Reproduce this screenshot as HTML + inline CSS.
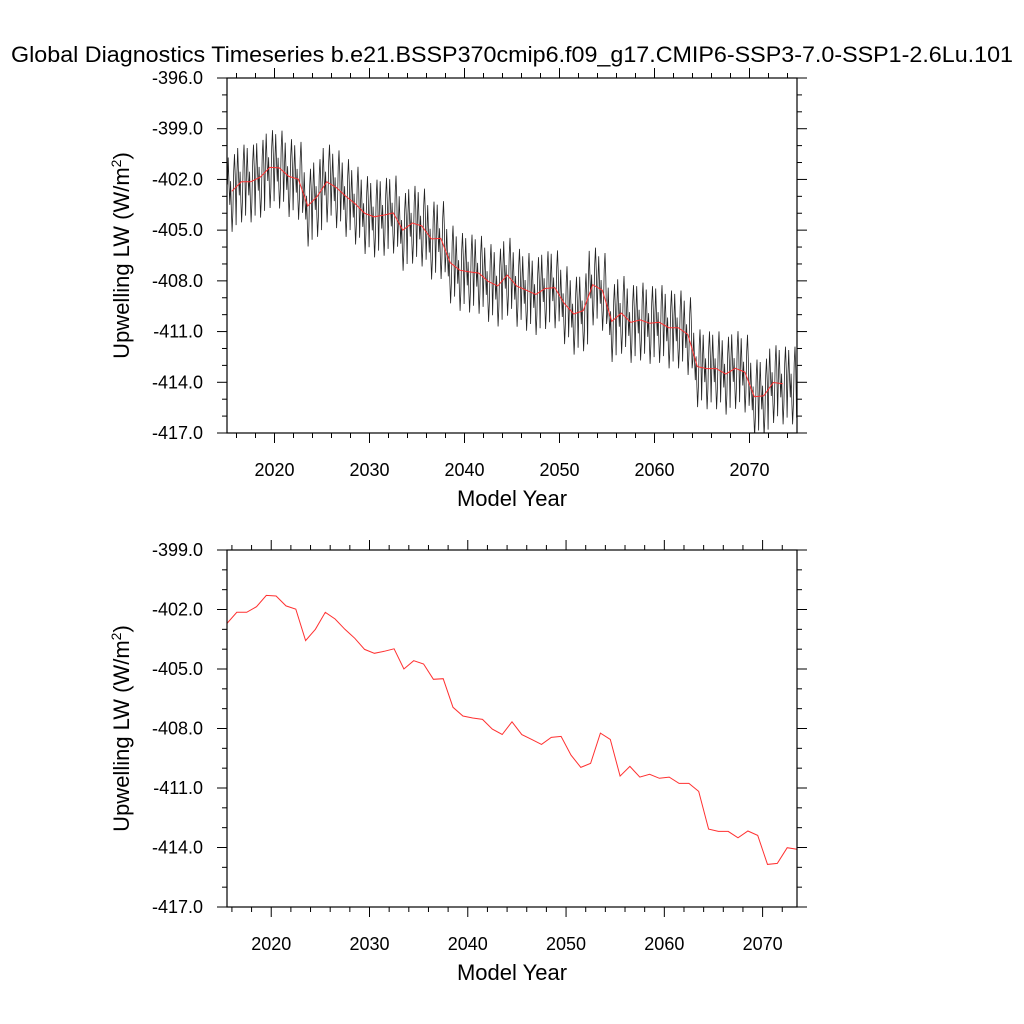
<!DOCTYPE html>
<html><head><meta charset="utf-8"><style>
body{margin:0;background:#fff;}
svg{display:block;font-family:"Liberation Sans",Arial,sans-serif;}
</style></head><body>
<svg id="svg" width="1024" height="1024" xmlns="http://www.w3.org/2000/svg">
<text x="512" y="62" font-size="22.5" text-anchor="middle" textLength="1002" lengthAdjust="spacingAndGlyphs">Global Diagnostics Timeseries b.e21.BSSP370cmip6.f09_g17.CMIP6-SSP3-7.0-SSP1-2.6Lu.101</text>
<g id="top"></g>
<g id="bot"></g>
</svg>
<script>
const years = [];
for (let y = 2015; y <= 2073; y++) years.push(y);
const annualMean = [-402.70,-402.14,-402.14,-401.86,-401.29,-401.32,-401.82,-401.98,-403.57,-403.00,
-402.14,-402.48,-403.00,-403.45,-404.01,-404.21,-404.11,-403.98,-405.00,-404.58,
-404.75,-405.52,-405.49,-406.93,-407.37,-407.47,-407.54,-408.03,-408.30,-407.66,
-408.31,-408.55,-408.80,-408.45,-408.40,-409.34,-409.96,-409.76,-408.23,-408.55,
-410.40,-409.91,-410.45,-410.31,-410.51,-410.45,-410.77,-410.77,-411.17,-413.07,
-413.19,-413.19,-413.51,-413.17,-413.39,-414.85,-414.80,-414.01,-414.09];
const seasonalShape = [0.4,2.0,0.4,-0.8,0.6,-1.2,-2.4,-1.2,1.2,2.2,0.8,-2.0];
const topYTicks = [-396,-399,-402,-405,-408,-411,-414,-417];
const botYTicks = [-399,-402,-405,-408,-411,-414,-417];
const xTickLabels = [2020,2030,2040,2050,2060,2070];

const NS = "http://www.w3.org/2000/svg";
function mk(parent, tag, attrs){const e=document.createElementNS(NS,tag);for(const k in attrs)e.setAttribute(k,attrs[k]);parent.appendChild(e);return e;}

function panel(g, cfg){
  const L=227,R=797,T=cfg.top,B=cfg.bottom;
  const xs=v=>L+(v-cfg.x0)/(cfg.x1-cfg.x0)*(R-L);
  const ys=v=>T+(cfg.y1-v)/(cfg.y1-cfg.y0)*(B-T);
  for(let v=Math.ceil(cfg.x0);v<=cfg.x1;v++){
    if(v%2!==0) continue;
    const maj=v%10===0, len=maj?10:5, x=xs(v);
    const t1=mk(g,'line',{x1:x,x2:x,y1:B,y2:B+len,stroke:'#000','stroke-width':1});
    
    
    const t2=mk(g,'line',{x1:x,x2:x,y1:T,y2:T-len,stroke:'#000','stroke-width':1});
    
    
  }
  for(let v=cfg.y0;v<=cfg.y1;v++){
    const maj=(v-cfg.y0)%3===0, len=maj?10:5, y=ys(v);
    const t1=mk(g,'line',{x1:L-len,x2:L,y1:y,y2:y,stroke:'#000','stroke-width':1});
    
    
    const t2=mk(g,'line',{x1:R,x2:R+len,y1:y,y2:y,stroke:'#000','stroke-width':1});
    
    
  }
  cfg.yTicks.forEach(v=>{
    const t=mk(g,'text',{x:L-24,y:ys(v)+6,'font-size':18,'text-anchor':'end'});
    t.textContent=v.toFixed(1);
    
    
  });
  xTickLabels.forEach(v=>{
    const t=mk(g,'text',{x:xs(v),y:B+43,'font-size':18,'text-anchor':'middle'});
    t.textContent=v;
    
    
  });
  const xt=mk(g,'text',{x:512,y:B+73,'font-size':22,'text-anchor':'middle'});
  xt.textContent='Model Year';
  
  
  const cy=(T+B)/2;
  const yt=mk(g,'text',{x:0,y:0,'font-size':22,'text-anchor':'middle',transform:`translate(129 ${cy}) rotate(-90)`});
  yt.innerHTML='Upwelling LW (W/m<tspan dy="-8" font-size="14">2</tspan><tspan dy="8">)</tspan>';
  
  
  const cid='clip'+T;
  const cp=mk(g,'clipPath',{id:cid});
  mk(cp,'rect',{x:L,y:T,width:R-L,height:B-T});
  if(cfg.monthly){
    let d='';
    for(let i=0;i<years.length+1;i++){
      const m=annualMean[Math.min(i,annualMean.length-1)];
      for(let k=0;k<12;k++){
        const t=2015+i+(k+0.5)/12;
        if(t>cfg.x1) break;
        d+=(d?'L':'M')+xs(t).toFixed(1)+','+ys(m+seasonalShape[k]).toFixed(1);
      }
    }
    const p=mk(g,'path',{d:d,fill:'none',stroke:'#222','stroke-width':0.8,'clip-path':`url(#${cid})`});
    
    
  }
  let d2='';
  years.forEach((yr,i)=>{d2+=(i?'L':'M')+xs(yr+0.5).toFixed(1)+','+ys(annualMean[i]).toFixed(1);});
  const p2=mk(g,'path',{d:d2,fill:'none',stroke:'#ff3030','stroke-width':1,'clip-path':`url(#${cid})`});
  
  
  const fr=mk(g,'rect',{x:L,y:T,width:R-L,height:B-T,fill:'none',stroke:'#000','stroke-width':1.2});
  
  
}
panel(document.getElementById('top'),{top:78,bottom:433,x0:2015,x1:2075,y0:-417,y1:-396,yTicks:topYTicks,monthly:true});
panel(document.getElementById('bot'),{top:550,bottom:907,x0:2015.5,x1:2073.5,y0:-417,y1:-399,yTicks:botYTicks,monthly:false});
</script>
</body></html>
